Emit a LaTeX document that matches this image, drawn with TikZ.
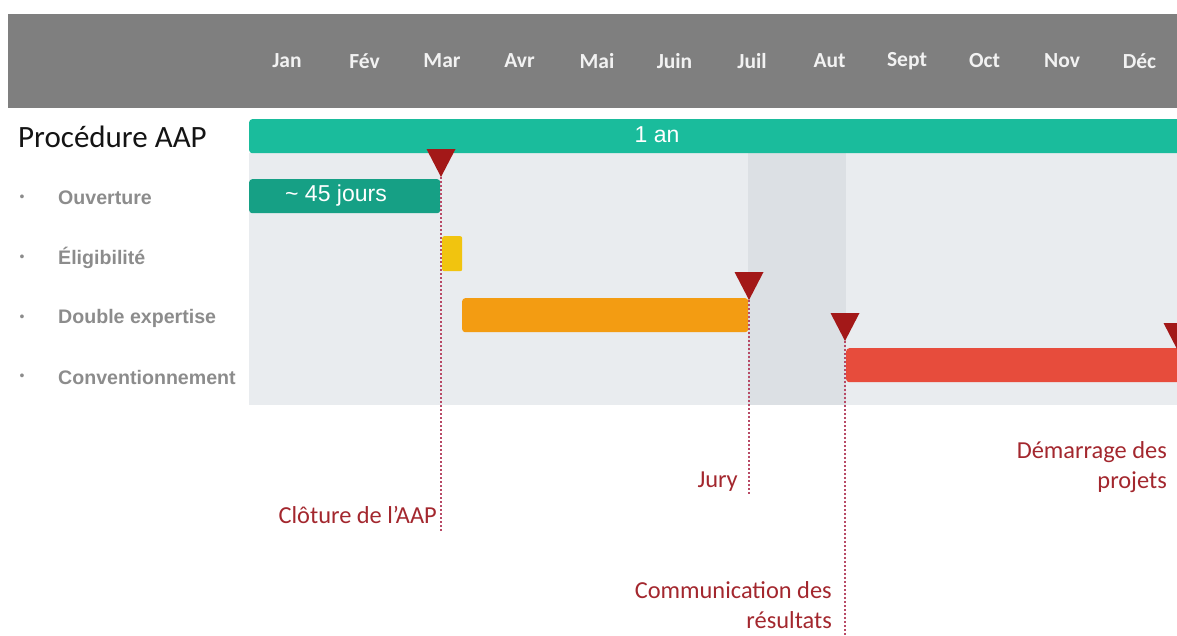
\documentclass[tikz,border=0pt]{standalone}
\usepackage{fontspec}
\setmainfont{Carlito}
\newfontfamily\arialfont{Liberation Sans}

\definecolor{hdrgray}{HTML}{7F7F7F}
\definecolor{monthtxt}{HTML}{F2F2F2}
\definecolor{teal}{HTML}{1ABC9C}
\definecolor{darkteal}{HTML}{16A085}
\definecolor{panel}{HTML}{E9ECEF}
\definecolor{panelband}{HTML}{DCE0E4}
\definecolor{sunyellow}{HTML}{F1C40F}
\definecolor{amber}{HTML}{F39C12}
\definecolor{tomato}{HTML}{E74C3C}
\definecolor{markred}{HTML}{A31818}
\definecolor{guidered}{HTML}{B84A66}
\definecolor{eventred}{HTML}{A3272E}
\definecolor{labelgray}{HTML}{8C8C8C}

\begin{document}
\begin{tikzpicture}[x=1pt,y=-1pt,
  month/.style={text=monthtxt, font=\bfseries\fontsize{21.5}{25}\selectfont},
  taskbar/.style={rounded corners=3pt, inner sep=0pt, anchor=north west},
  tasklabel/.style={anchor=west, text=labelgray, inner sep=0pt,
    font=\arialfont\bfseries\fontsize{19.6}{22}\selectfont},
  bullet/.style={text=labelgray, inner sep=0pt, font=\arialfont\fontsize{14}{16}\selectfont},
  bartext/.style={text=white, font=\arialfont\fontsize{23}{26}\selectfont},
  milestone/.style={fill=markred},
  guide/.style={draw=guidered, line width=1.3pt, dash pattern=on 2pt off 2pt},
  event/.style={anchor=east, text=eventred, align=right, inner sep=0pt,
    font=\fontsize{24.4}{30}\selectfont}]
\useasboundingbox (0,0) rectangle (1177,635);
\clip (0,0) rectangle (1177,635);

% month header
\fill[hdrgray] (8,14) rectangle (1177,108);
\foreach \m [count=\i from 0] in {Jan,Fév,Mar,Avr,Mai,Juin,Juil,Aut,Sept,Oct,Nov,Déc}
  \node[month] (month\i) at (287+77.5*\i,61) {\m};

% timeline background
\fill[panel] (249,153) rectangle (1177,405);
\fill[panelband] (748,153) rectangle (846,405);

% overall duration
\node[taskbar, fill=teal, minimum width=936pt, minimum height=34pt] (year) at (249,119) {};
\node[bartext] (yearlbl) at (657,135) {1 an};

% phases
\node[taskbar, fill=darkteal, minimum width=191pt, minimum height=34pt] (ouv) at (249,179) {};
\node[bartext] (ouvlbl) at (336,196) {\textasciitilde{} 45 jours};
\node[taskbar, fill=sunyellow, minimum width=20pt, minimum height=35pt, rounded corners=2pt] (elig) at (442,236) {};
\node[taskbar, fill=amber, minimum width=286pt, minimum height=34pt] (expert) at (462,298) {};
\node[taskbar, fill=tomato, minimum width=340pt, minimum height=34pt] (conv) at (846,348) {};

% row titles
\node[anchor=west, inner sep=0pt, text=black!92, font=\fontsize{31}{34}\selectfont] (proc) at (18,137) {Procédure AAP};
\foreach \t/\y [count=\i] in {Ouverture/198, Éligibilité/258, Double expertise/318, Conventionnement/377}{
  \node[bullet] (dot\i) at (22,\y) {•};
  \node[tasklabel] (task\i) at (58,\y) {\t};
}

% milestones: marker tips and the ends of their guide lines
\coordinate (close) at (441,177);
\coordinate (closeEnd) at (441,532);
\coordinate (jury) at (749,300);
\coordinate (juryEnd) at (749,495);
\coordinate (comm) at (845,341);
\coordinate (commEnd) at (845,635);
\coordinate (start) at (1178,351);

\draw[guide] (close) -- (closeEnd);
\draw[guide] (jury) -- (juryEnd);
\draw[guide] (comm) -- (commEnd);

\foreach \c in {close,jury,comm,start}
  \fill[milestone] (\c) ++(-14.5,-28) -- ++(29,0) -- (\c) -- cycle;

% milestone captions
\node[event] (closeLbl) at (437,515) {Clôture de l’AAP};
\node[event] (juryLbl) at (738,482) {Jury};
\node[event] (commLbl) at (832,605) {Communication des\\résultats};
\node[event] (startLbl) at (1167,467) {Démarrage des\\projets};
\end{tikzpicture}
\end{document}
